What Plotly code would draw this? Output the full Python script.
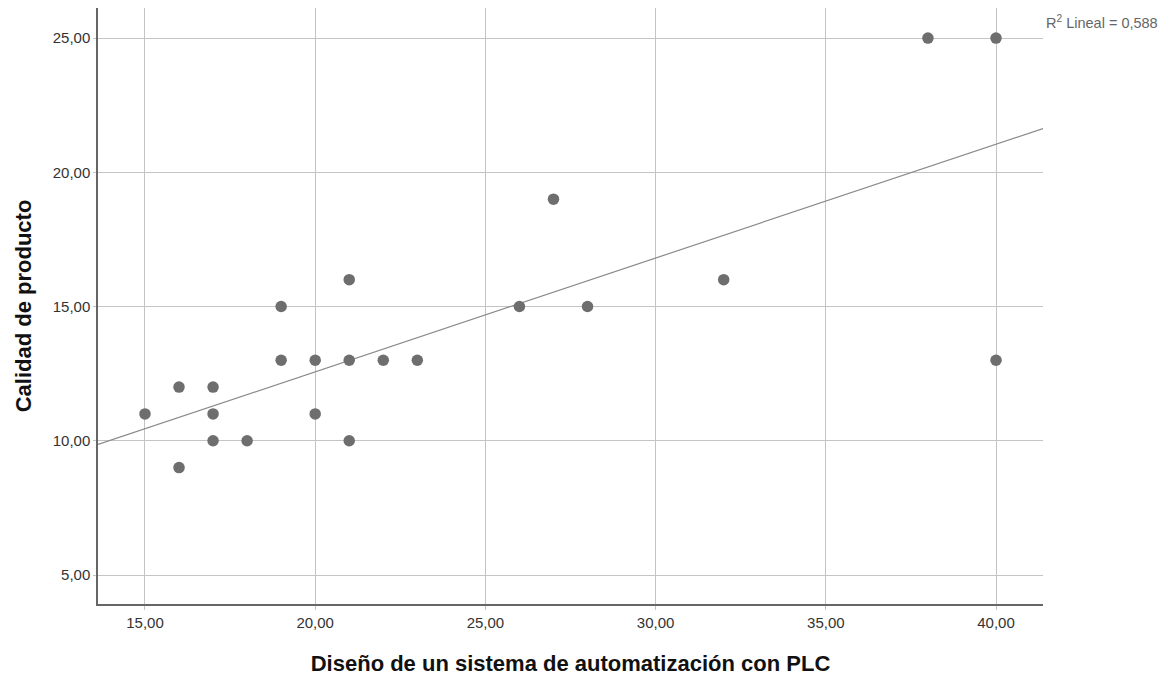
import numpy as np
import plotly.graph_objects as go

# Data
diseno_plc = [15, 16, 16, 17, 17, 17, 18, 19, 19, 20, 20, 21, 21, 21, 22, 23, 26, 27, 28, 32, 38, 40, 40]
calidad_producto = [11, 12, 9, 12, 11, 10, 10, 15, 13, 13, 11, 16, 13, 10, 13, 13, 15, 19, 15, 16, 25, 25, 13]
x_ticks = [15, 20, 25, 30, 35, 40]
y_ticks = [5, 10, 15, 20, 25]
r2_text = "R<sup>2</sup> Lineal = 0,588"

x_range = [13.62, 41.38]
y_range = [3.92, 26.12]

slope, intercept = np.polyfit(diseno_plc, calidad_producto, 1)
fit_x = np.array(x_range)
fit_y = intercept + slope * fit_x

fig = go.Figure()
fig.add_trace(go.Scatter(
    x=fit_x, y=fit_y, mode="lines",
    line=dict(color="#8a8a8a", width=1.2),
    hoverinfo="skip", showlegend=False,
))
fig.add_trace(go.Scatter(
    x=diseno_plc, y=calidad_producto, mode="markers",
    marker=dict(color="#6e6e6e", size=11.5, line=dict(width=0)),
    showlegend=False,
))

fig.update_layout(
    width=1161, height=668,
    margin=dict(l=90, r=126, t=0, b=72),
    paper_bgcolor="white", plot_bgcolor="white",
    separators=",.",
    font=dict(family="Liberation Sans, Arial, sans-serif", color="#333333"),
    xaxis=dict(
        range=x_range, tickvals=x_ticks, tickformat=".2f", automargin=False,
        showgrid=True, gridcolor="#c4c4c4", gridwidth=1,
        showline=True, linecolor="#666666", linewidth=1.5,
        zeroline=False, ticks="outside", ticklen=4, tickcolor="#c4c4c4",
        ticklabelstandoff=0,
        tickfont=dict(size=15, color="#333333"),
        title=dict(text="<b>Diseño de un sistema de automatización con PLC</b>",
                   font=dict(size=22, color="#111111"), standoff=28),
    ),
    yaxis=dict(
        range=y_range, tickvals=y_ticks, tickformat=".2f", automargin=False,
        showgrid=True, gridcolor="#c4c4c4", gridwidth=1,
        showline=True, linecolor="#666666", linewidth=1.5,
        zeroline=False, ticks="outside", ticklen=3, tickcolor="#c4c4c4",
        tickfont=dict(size=15, color="#333333"),
        title=dict(text="<b>Calidad de producto</b>",
                   font=dict(size=22, color="#111111"), standoff=15),
    ),
    annotations=[dict(
        text=r2_text, xref="paper", yref="paper", x=1.0, y=1.0,
        xanchor="left", yanchor="top", xshift=1, yshift=-3, showarrow=False,
        font=dict(size=14.5, color="#666666"),
    )],
)

fig.write_html("out.html")
